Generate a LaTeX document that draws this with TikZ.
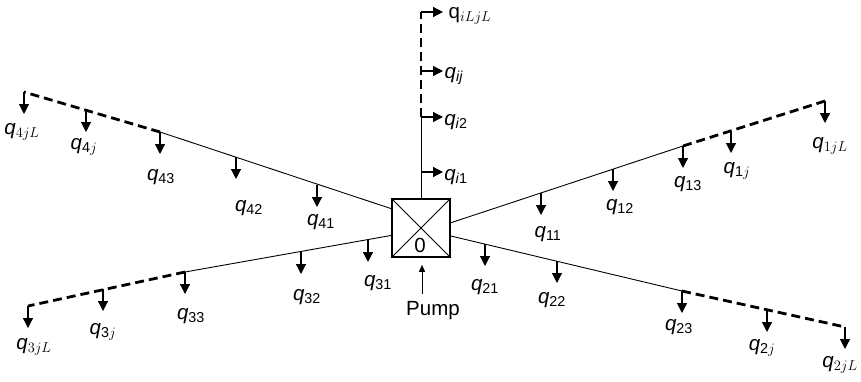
\documentclass[tikz,border=0pt]{standalone}
\usepackage{fontspec}
\setmainfont{Liberation Sans}
\usetikzlibrary{arrows.meta,calc}
\newcommand{\qq}[1]{\textit{q}\textsubscript{#1}}
\tikzset{
  hub/.style={rectangle,draw,line width=1.6pt,minimum size=58pt,inner sep=0pt},
  pipe/.style={line width=0.9pt},
  farpipe/.style={line width=2.8pt,dash pattern=on 9pt off 5pt},
  drop/.style={-{Triangle[length=10pt,width=10pt]},line width=1.2pt},
  feed/.style={-{Triangle[length=7pt,width=6pt]},line width=0.9pt},
  lbl/.style={inner sep=0pt,font=\fontsize{20.5}{24}\selectfont}
}

\begin{document}
\begin{tikzpicture}[x=1pt,y=-1pt]
    \useasboundingbox (0,0) rectangle (861,381);
    \node[hub] (pump) at (421,228) {};
    \draw[pipe] (pump.north west) -- (pump.south east);
    \draw[pipe] (pump.north east) -- (pump.south west);
    \node[lbl] (zero) at (420,245) {0};

    \coordinate (m0) at (421,117); \coordinate (e0) at (421,12);
    \coordinate (m1) at (683,146); \coordinate (e1) at (825,101);
    \coordinate (m2) at (682,291); \coordinate (e2) at (845,327);
    \coordinate (m3) at (185,272); \coordinate (e3) at (28,306);
    \coordinate (m4) at (160,132); \coordinate (e4) at (24,92);

    \draw[pipe] (pump.north) -- (m0);
    \draw[pipe] (pump.10) -- (m1);
    \draw[pipe] (pump.-15) -- (m2);
    \draw[pipe] (pump.194) -- (m3);
    \draw[pipe] (pump.147) -- (m4);
    \draw[farpipe] (m0) -- (e0);
    \draw[farpipe] (m1) -- (e1);
    \draw[farpipe] (m2) -- (e2);
    \draw[farpipe] (m3) -- (e3);
    \draw[farpipe] (m4) -- (e4);

    \coordinate (ti1) at (421,172); \coordinate (tij) at (421,71);
    \coordinate (t11) at (541,193); \coordinate (t12) at (613,169); \coordinate (t1j) at (731,131);
    \coordinate (t21) at (485,244); \coordinate (t22) at (557,261); \coordinate (t2j) at (767,310);
    \coordinate (t31) at (368,240); \coordinate (t32) at (301,252); \coordinate (t3j) at (103,289);
    \coordinate (t41) at (317,185); \coordinate (t42) at (236,157); \coordinate (t4j) at (86,110);

    \foreach \t in {ti1,m0,tij,e0}
      \draw[drop] (\t) -- ++(22,0);
    \foreach \t in {t11,t12,m1,t1j,e1,t21,t22,m2,t2j,e2,t31,t32,m3,t3j,e3,t41,t42,m4,t4j,e4}
      \draw[drop] (\t) -- ++(0,22);

    \node[lbl] (qi1) at (456,177) {\qq{\textit{i}1}};
    \node[lbl] (qi2) at (456,122) {\qq{\textit{i}2}};
    \node[lbl] (qij) at (454,76) {\qq{\textit{ij}}};
    \node[lbl] (qiL) at (470,16) {q\textsubscript{$iLjL$}};

    \node[lbl] (q11) at (548,234) {\qq{11}};
    \node[lbl] (q12) at (620,207) {\qq{12}};
    \node[lbl] (q13) at (688,184) {\qq{13}};
    \node[lbl] (q1j) at (737,171) {\qq{1$j$}};
    \node[lbl] (q1L) at (830,146) {\qq{$1jL$}};

    \node[lbl] (q21) at (485,287) {\qq{21}};
    \node[lbl] (q22) at (552,300) {\qq{22}};
    \node[lbl] (q23) at (679,327) {\qq{23}};
    \node[lbl] (q2j) at (762,348) {\qq{2$j$}};
    \node[lbl] (q2L) at (840,365) {\qq{$2jL$}};

    \node[lbl] (q31) at (378,283) {\qq{31}};
    \node[lbl] (q32) at (307,297) {\qq{32}};
    \node[lbl] (q33) at (191,316) {\qq{33}};
    \node[lbl] (q3j) at (103,332) {\qq{3$j$}};
    \node[lbl] (q3L) at (34,347) {\qq{$3jL$}};

    \node[lbl] (q41) at (321,222) {\qq{41}};
    \node[lbl] (q42) at (249,208) {\qq{42}};
    \node[lbl] (q43) at (161,177) {\qq{43}};
    \node[lbl] (q4j) at (84,147) {\qq{4$j$}};
    \node[lbl] (q4L) at (22,132) {\qq{$4jL$}};

    \node[lbl] (pumplbl) at (433,311) {Pump};
    \coordinate (pumpin) at (422,294);
    \draw[feed,shorten >=7pt] (pumpin) -- (pumpin |- pump.south);
\end{tikzpicture}
\end{document}
